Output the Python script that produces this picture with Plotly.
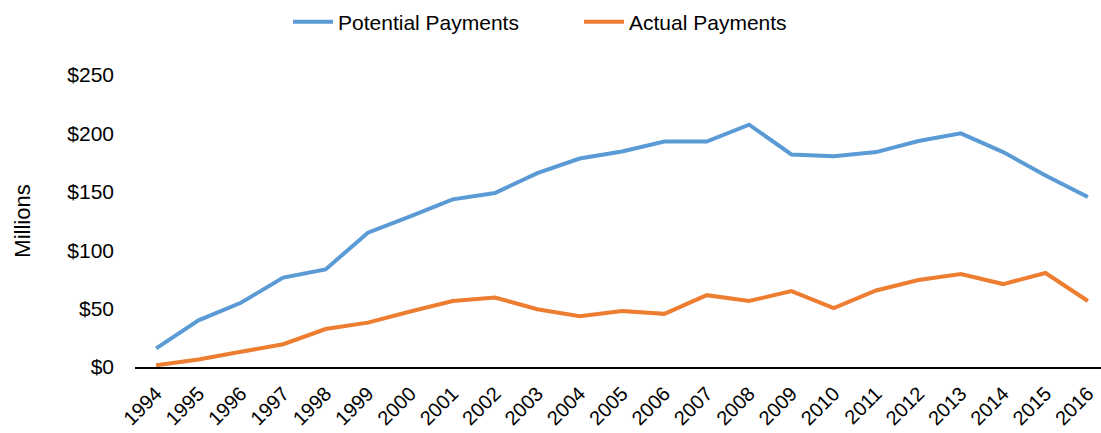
import plotly.graph_objects as go

years = [str(y) for y in range(1994, 2017)]
potential = [16, 40, 55, 76.5, 83.5, 115, 129, 143.5, 149, 166, 178.5,
             184.5, 193, 193, 207.5, 182, 180.5, 184, 193.5, 200, 184, 164, 145.5]
actual = [1.5, 6.5, 13, 19.5, 32.5, 38, 47.5, 56.5, 59.5, 49.5, 43.5,
          48, 45.5, 61.5, 56.5, 65, 50.5, 65.5, 74.5, 79.5, 71, 80.5, 56.5]
y_ticks = [0, 50, 100, 150, 200, 250]
y_labels = ["$0", "$50", "$100", "$150", "$200", "$250"]

font_family = "Arial, Liberation Sans, sans-serif"

fig = go.Figure()
fig.add_trace(go.Scatter(x=list(range(len(years))), y=potential, mode="lines",
                         name="Potential Payments",
                         line=dict(color="#5B9BD5", width=4)))
fig.add_trace(go.Scatter(x=list(range(len(years))), y=actual, mode="lines",
                         name="Actual Payments",
                         line=dict(color="#ED7D31", width=4)))

fig.update_layout(
    width=1101, height=433,
    margin=dict(l=135, r=0, t=74.5, b=66),
    paper_bgcolor="white", plot_bgcolor="white",
    font=dict(family=font_family, size=20, color="black"),
    showlegend=True,
    legend=dict(orientation="h", xref="container", yref="container",
                x=288 / 1101, y=0.949, xanchor="left", yanchor="middle",
                font=dict(size=21), itemwidth=40, entrywidth=236,
                entrywidthmode="pixels", tracegroupgap=0),
    xaxis=dict(tickmode="array", tickvals=list(range(len(years))), ticktext=years,
               range=[-0.5, 22.31], tickangle=-45, showgrid=False, zeroline=False,
               showline=True, linecolor="black", linewidth=2, ticks="",
               ticklabelstandoff=5, tickfont=dict(size=20), automargin=False),
    yaxis=dict(range=[0, 250], tickmode="array", tickvals=y_ticks, ticktext=y_labels,
               showgrid=False, zeroline=False, showline=False, ticks="",
               ticklabelstandoff=20, tickfont=dict(size=21), automargin=False,
               title=dict(text="Millions", font=dict(size=22), standoff=30)),
)

fig.write_html("out.html", config={"displayModeBar": False},
               post_script="document.body.style.margin='0';document.body.style.padding='0';")
